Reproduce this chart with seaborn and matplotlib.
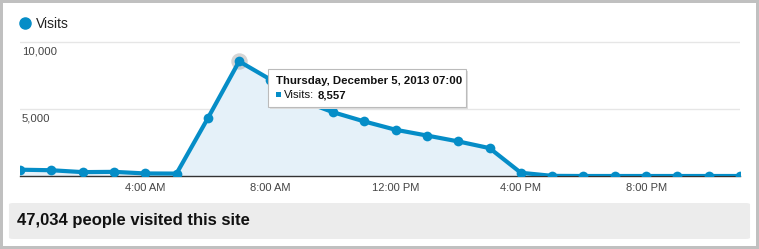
import matplotlib
matplotlib.use("Agg")
import numpy as np
import pandas as pd
import seaborn as sns
import matplotlib.pyplot as plt
from matplotlib.patches import FancyBboxPatch, Rectangle
from matplotlib.lines import Line2D

# ---- data ----
hours = list(range(24))
visits = [470, 430, 290, 310, 190, 180, 4310, 8557, 7200, 5630, 4760, 4070,
          3450, 3020, 2580, 2080, 240, 10, 0, 0, 0, 0, 0, 0]
xtick_hours = [4, 8, 12, 16, 20]
xtick_labels = ["4:00 AM", "8:00 AM", "12:00 PM", "4:00 PM", "8:00 PM"]
ytick_values = [5000, 10000]
ytick_labels = ["5,000", "10,000"]
series_name = "Visits"
total_text = "47,034 people visited this site"
tooltip_title = "Thursday, December 5, 2013 07:00"
tooltip_value = "8,557"
peak_hour = 7

BLUE = "#058dc7"
FILL = "#e5f1f9"

sns.set_theme(style="white")
plt.rcParams["font.family"] = ["Liberation Sans", "DejaVu Sans"]

W, H = 759, 249
fig = plt.figure(figsize=(W / 100, H / 100), dpi=100)
fig.patch.set_facecolor("#c0c0c0")


def fx(px):
    return px / W


def fy(py):
    return 1 - py / H


# white panel inside gray frame
fig.patches.append(Rectangle((fx(3), fy(246)), fx(753), 243 / H,
                             transform=fig.transFigure, facecolor="white",
                             edgecolor="none", zorder=-5))

df = pd.DataFrame({"hour": hours, "visits": visits})

ax = fig.add_axes([fx(20), fy(176), 720 / W, (176 - 35) / H])
ax.set_facecolor("none")
ax.fill_between(df["hour"], df["visits"], 0, color=FILL, lw=0, zorder=1)
sns.lineplot(data=df, x="hour", y="visits", ax=ax, color=BLUE, lw=3.0,
             marker="o", markersize=7, markeredgewidth=0, zorder=3,
             legend=False)
# hover halo on the peak
pk = df[df["hour"] == peak_hour]
ax.scatter(pk["hour"], pk["visits"], s=140, color="#888888", alpha=0.35,
           lw=0, zorder=2)

ax.set_xlim(0, 23)
ax.set_ylim(0, 141 / 134 * 10000)
ax.set_xlabel("")
ax.set_ylabel("")
ax.set_xticks(xtick_hours)
ax.set_xticklabels(xtick_labels)
ax.tick_params(axis="x", length=0, pad=5, labelsize=8, labelcolor="#444444")
ax.set_yticks(ytick_values)
ax.set_yticklabels([])
ax.tick_params(axis="y", length=0)
ax.grid(axis="y", color="#e6e6e6", lw=1)
ax.grid(axis="x", visible=False)
for s in ["top", "left", "right"]:
    ax.spines[s].set_visible(False)
ax.spines["bottom"].set_color("#333333")
ax.spines["bottom"].set_linewidth(1)
ax.spines["bottom"].set_zorder(2.5)

for v, lab in zip(ytick_values, ytick_labels):
    ax.annotate(lab, xy=(0, v), xycoords=("axes fraction", "data"),
                xytext=(1.5, -3), textcoords="offset points", ha="left",
                va="top", fontsize=8.2, color="#444444")

# legend
fig.legend(handles=[Line2D([0], [0], marker="o", ls="none", color=BLUE,
                           markersize=8)],
           labels=[series_name], loc="center left",
           bbox_to_anchor=(fx(11), fy(24)), frameon=False, fontsize=10,
           handletextpad=0.3, borderpad=0, handlelength=1.0,
           labelcolor="#222222")

# tooltip
fig.patches.append(FancyBboxPatch((fx(270), fy(109)), 198 / W, 38 / H,
                                  boxstyle="square,pad=0",
                                  transform=fig.transFigure,
                                  facecolor="#dddddd", edgecolor="none",
                                  zorder=4))
fig.patches.append(FancyBboxPatch((fx(268), fy(107)), 198 / W, 38 / H,
                                  boxstyle="square,pad=0",
                                  transform=fig.transFigure,
                                  facecolor="white", edgecolor="#bbbbbb",
                                  lw=0.8, zorder=5))
fig.text(fx(276), fy(81), tooltip_title, fontsize=8.2, fontweight="bold",
         ha="left", va="center", color="#111111", zorder=6)
fig.patches.append(Rectangle((fx(276), fy(97.5)), 5 / W, 5 / H,
                             transform=fig.transFigure, facecolor=BLUE,
                             edgecolor="none", zorder=6))
fig.text(fx(284), fy(95), f"{series_name}:", fontsize=8.2, ha="left",
         va="center", color="#111111", zorder=6)
fig.text(fx(318), fy(95), tooltip_value, fontsize=8.2, fontweight="bold",
         ha="left", va="center", color="#111111", zorder=6)

# summary box
fig.patches.append(FancyBboxPatch((fx(12), fy(238)), 735 / W, 34 / H,
                                  boxstyle="round,pad=0.004,rounding_size=0.006",
                                  transform=fig.transFigure,
                                  facecolor="#ececec", edgecolor="none",
                                  zorder=1))
fig.text(fx(17), fy(220), total_text, fontsize=12, fontweight="bold",
         ha="left", va="center", color="#111111")

fig.savefig("out.png", dpi=100)
